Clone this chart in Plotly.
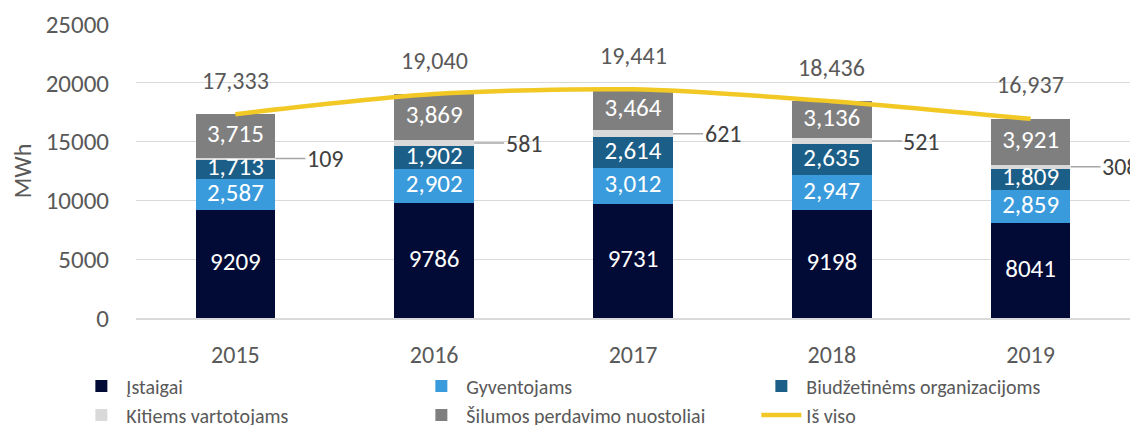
import plotly.graph_objects as go

years = ["2015", "2016", "2017", "2018", "2019"]
istaigai = [9209, 9786, 9731, 9198, 8041]
gyventojams = [2587, 2902, 3012, 2947, 2859]
biudzetinems = [1713, 1902, 2614, 2635, 1809]
kitiems = [109, 581, 621, 521, 308]
nuostoliai = [3715, 3869, 3464, 3136, 3921]
is_viso = [17333, 19040, 19441, 18436, 16937]

series = [
    ("Įstaigai", istaigai, "#020B35", False),
    ("Gyventojams", gyventojams, "#399BDB", True),
    ("Biudžetinėms organizacijoms", biudzetinems, "#1B5E87", True),
    ("Kitiems vartotojams", kitiems, "#D9D9D9", True),
    ("Šilumos perdavimo nuostoliai", nuostoliai, "#7F7F7F", True),
]

FONT = "Carlito, Lato, Liberation Sans, sans-serif"
n = len(years)
xs = list(range(n))
fig = go.Figure()

for name, vals, color, _ in series:
    fig.add_trace(go.Bar(
        x=xs, y=vals, name=name, marker=dict(color=color, line=dict(width=0)),
        hoverinfo="skip",
    ))

fig.add_trace(go.Scatter(
    x=xs, y=is_viso, name="Iš viso", mode="lines",
    line=dict(color="#F2C824", width=4.5, shape="spline", smoothing=0.8),
))

cum = [0.0] * n
annotations = []
for name, vals, color, comma in series:
    mids = [c + v / 2 for c, v in zip(cum, vals)]
    if name == "Kitiems vartotojams":
        for xi, v, m in zip(xs, vals, mids):
            annotations.append(dict(
                x=(xi + 0.5) / n, y=m, xref="paper", yref="y", xshift=40,
                text=f"{v:,}", showarrow=True, arrowhead=0, arrowwidth=1.5,
                arrowcolor="#A6A6A6", ax=50, ay=0, standoff=0,
                font=dict(size=24, color="#404040", family=FONT),
            ))
    else:
        fig.add_trace(go.Scatter(
            x=xs, y=mids, mode="text", showlegend=False, hoverinfo="skip",
            text=[f"{v:,}" if comma else f"{v}" for v in vals],
            textfont=dict(size=25, color="white", family=FONT),
        ))
    cum = [c + v for c, v in zip(cum, vals)]

for xi, t in zip(xs, is_viso):
    annotations.append(dict(
        x=xi, y=t, xref="x", yref="y", yshift=34, text=f"{t:,}",
        showarrow=False, font=dict(size=24, color="#595959", family=FONT),
    ))

fig.update_layout(
    width=1130, height=417,
    margin=dict(l=128, r=8, t=16, b=107, autoexpand=False),
    barmode="stack", bargap=0.6,
    plot_bgcolor="white", paper_bgcolor="white",
    font=dict(family=FONT, color="#595959"),
    annotations=annotations,
    legend=dict(
        orientation="h", x=-0.06, xanchor="left", y=-0.165, yanchor="top",
        entrywidth=285, entrywidthmode="pixels", traceorder="normal",
        font=dict(size=20, color="#595959", family=FONT),
        itemwidth=40, tracegroupgap=0,
    ),
    showlegend=True,
)
fig.update_xaxes(
    range=[-0.5, n - 0.5], tickvals=xs, ticktext=years,
    showgrid=False, showline=True, linecolor="#D9D9D9", linewidth=1.5,
    tickfont=dict(size=24, color="#595959"), ticklabelstandoff=14,
)
fig.update_yaxes(
    range=[0, 25000], dtick=5000, showgrid=True, gridcolor="#D9D9D9", gridwidth=1,
    zeroline=False, tickfont=dict(size=25, color="#595959"), ticklabelstandoff=26,
    title=dict(text="MWh", font=dict(size=24, color="#595959"), standoff=10),
    tickformat="d",
)
fig.write_html("out.html")
